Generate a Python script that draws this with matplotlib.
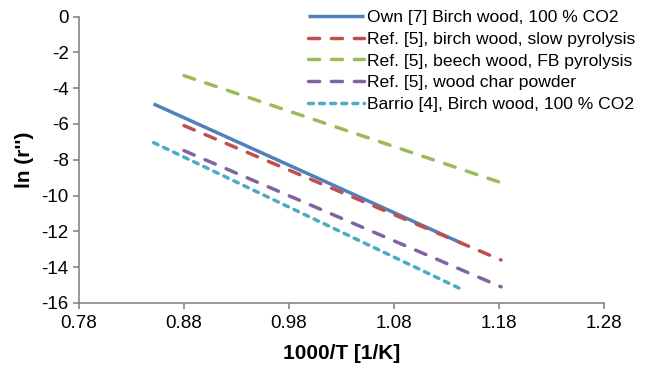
import matplotlib
matplotlib.use('Agg')
import matplotlib.pyplot as plt

plt.rcParams['font.family'] = ['Liberation Sans', 'DejaVu Sans']

# Endpoints of each Arrhenius line (1000/T, ln r'')
own_x = [0.851, 1.144]
own_y = [-4.88, -12.65]
birch_x = [0.880, 1.182]
birch_y = [-6.09, -13.6]
beech_x = [0.880, 1.185]
beech_y = [-3.30, -9.34]
char_x = [0.880, 1.182]
char_y = [-7.49, -15.1]
barrio_x = [0.851, 1.143]
barrio_y = [-7.04, -15.2]

labels = ['Own [7] Birch wood, 100 % CO2',
          'Ref. [5], birch wood, slow pyrolysis',
          'Ref. [5], beech wood, FB pyrolysis',
          'Ref. [5], wood char powder',
          'Barrio [4], Birch wood, 100 % CO2']

xticks = [0.78, 0.88, 0.98, 1.08, 1.18, 1.28]
yticks = [0, -2, -4, -6, -8, -10, -12, -14, -16]

fig = plt.figure(figsize=(6.46, 3.69), dpi=100)
ax = fig.add_axes([0.1223, 0.179, 0.8127, 0.776])

lw = 2.5
ax.plot(own_x, own_y, color='#4F81BD', lw=lw, solid_capstyle='butt', label=labels[0])
ax.plot(birch_x, birch_y, color='#C0504D', lw=lw, dashes=(3.2, 3.4), dash_capstyle='round', label=labels[1])
ax.plot(beech_x, beech_y, color='#9BBB59', lw=lw, dashes=(3.2, 3.4), dash_capstyle='round', label=labels[2])
ax.plot(char_x, char_y, color='#8064A2', lw=lw, dashes=(3.2, 3.4), dash_capstyle='round', label=labels[3])
ax.plot(barrio_x, barrio_y, color='#4BACC6', lw=lw, dashes=(1.4, 1.8), dash_capstyle='round', label=labels[4])

ax.set_xlim(0.78, 1.28)
ax.set_ylim(-16, 0)
ax.set_xticks(xticks)
ax.set_xticklabels(['%.2f' % v for v in xticks])
ax.set_yticks(yticks)
ax.set_yticklabels(['%d' % v for v in yticks])

for s in ['top', 'right']:
    ax.spines[s].set_visible(False)
for s in ['left', 'bottom']:
    ax.spines[s].set_color('#868686')
    ax.spines[s].set_linewidth(1.2)
ax.tick_params(axis='both', colors='#868686', labelcolor='black', labelsize=13.5, direction='out', length=4, width=1.2)
ax.tick_params(axis='x', pad=4.5)

ax.set_xlabel('1000/T [1/K]', fontsize=15, fontweight='bold', labelpad=9)
ax.set_ylabel("ln (r'')", fontsize=15, fontweight='bold', labelpad=5)

leg = ax.legend(loc='upper right', bbox_to_anchor=(1.072, 1.048), frameon=False, fontsize=12.6,
                handlelength=3.2, handletextpad=0.15, labelspacing=0.37, borderaxespad=0)

fig.savefig('out.png', dpi=100)
